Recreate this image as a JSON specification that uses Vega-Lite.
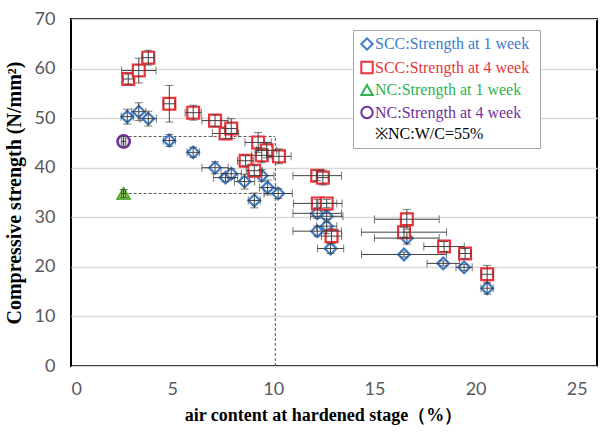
{
  "$schema": "https://vega.github.io/schema/vega-lite/v6.json",
  "width": 526,
  "height": 347,
  "autosize": "none",
  "padding": {"left": 71, "top": 19, "right": 12, "bottom": 67},
  "background": "white",
  "config": {
    "view": {"stroke": "black", "strokeWidth": 2},
    "axis": {
      "labelFont": "Lato",
      "labelFontSize": 18,
      "labelColor": "#595959",
      "titleFont": "Liberation Serif",
      "titleFontWeight": "bold",
      "titleFontSize": 18,
      "titleColor": "black",
      "domain": false,
      "ticks": false
    }
  },
  "datasets": {
    "pts": [
      {"s": "SCC:Strength at  1 week", "x": 2.78, "y": 50.3, "xlo": 2.48, "xhi": 3.08, "ylo": 48.8, "yhi": 51.8},
      {"s": "SCC:Strength at  1 week", "x": 3.35, "y": 51.3, "xlo": 3.0, "xhi": 3.7, "ylo": 49.5, "yhi": 53.1},
      {"s": "SCC:Strength at  1 week", "x": 3.82, "y": 49.9, "xlo": 3.42, "xhi": 4.22, "ylo": 48.4, "yhi": 51.4},
      {"s": "SCC:Strength at  1 week", "x": 4.86, "y": 45.5, "xlo": 4.56, "xhi": 5.16, "ylo": 44.3, "yhi": 46.7},
      {"s": "SCC:Strength at  1 week", "x": 6.04, "y": 43.1, "xlo": 5.74, "xhi": 6.34, "ylo": 42.1, "yhi": 44.1},
      {"s": "SCC:Strength at  1 week", "x": 7.12, "y": 40.0, "xlo": 6.47, "xhi": 7.77, "ylo": 38.8, "yhi": 41.2},
      {"s": "SCC:Strength at  1 week", "x": 7.64, "y": 38.0, "xlo": 7.04, "xhi": 8.24, "ylo": 37.2, "yhi": 38.8},
      {"s": "SCC:Strength at  1 week", "x": 7.92, "y": 38.8, "xlo": 7.42, "xhi": 8.42, "ylo": 37.8, "yhi": 39.8},
      {"s": "SCC:Strength at  1 week", "x": 8.58, "y": 37.2, "xlo": 8.08, "xhi": 9.08, "ylo": 35.7, "yhi": 38.7},
      {"s": "SCC:Strength at  1 week", "x": 9.43, "y": 38.4, "xlo": 8.83, "xhi": 10.03, "ylo": 37.2, "yhi": 39.6},
      {"s": "SCC:Strength at  1 week", "x": 9.72, "y": 36.0, "xlo": 9.32, "xhi": 10.12, "ylo": 34.5, "yhi": 37.5},
      {"s": "SCC:Strength at  1 week", "x": 9.06, "y": 33.4, "xlo": 8.76, "xhi": 9.36, "ylo": 31.9, "yhi": 34.9},
      {"s": "SCC:Strength at  1 week", "x": 10.24, "y": 34.8, "xlo": 9.54, "xhi": 10.94, "ylo": 33.8, "yhi": 35.8},
      {"s": "SCC:Strength at  1 week", "x": 12.17, "y": 30.8, "xlo": 10.97, "xhi": 13.37, "ylo": 29.8, "yhi": 31.8},
      {"s": "SCC:Strength at  1 week", "x": 12.64, "y": 30.2, "xlo": 11.84, "xhi": 13.44, "ylo": 29.0, "yhi": 31.4},
      {"s": "SCC:Strength at  1 week", "x": 12.64, "y": 28.2, "xlo": 12.14, "xhi": 13.14, "ylo": 26.7, "yhi": 29.7},
      {"s": "SCC:Strength at  1 week", "x": 12.17, "y": 27.2, "xlo": 10.97, "xhi": 13.37, "ylo": 26.2, "yhi": 28.2},
      {"s": "SCC:Strength at  1 week", "x": 12.83, "y": 23.7, "xlo": 12.18, "xhi": 13.48, "ylo": 22.7, "yhi": 24.7},
      {"s": "SCC:Strength at  1 week", "x": 16.6, "y": 25.8, "xlo": 15.0, "xhi": 18.2, "ylo": 24.6, "yhi": 27.0},
      {"s": "SCC:Strength at  1 week", "x": 16.46, "y": 22.5, "xlo": 14.36, "xhi": 18.56, "ylo": 22.0, "yhi": 23.0},
      {"s": "SCC:Strength at  1 week", "x": 18.4, "y": 20.7, "xlo": 17.6, "xhi": 19.2, "ylo": 20.2, "yhi": 21.2},
      {"s": "SCC:Strength at  1 week", "x": 19.43, "y": 19.9, "xlo": 19.03, "xhi": 19.83, "ylo": 19.3, "yhi": 20.5},
      {"s": "SCC:Strength at  1 week", "x": 20.57, "y": 15.7, "xlo": 20.27, "xhi": 20.87, "ylo": 14.5, "yhi": 16.9},
      {"s": "SCC:Strength at  4 week", "x": 2.83, "y": 57.9, "xlo": 2.58, "xhi": 3.08, "ylo": 56.9, "yhi": 58.9},
      {"s": "SCC:Strength at  4 week", "x": 3.35, "y": 59.6, "xlo": 2.5, "xhi": 4.2, "ylo": 57.1, "yhi": 62.1},
      {"s": "SCC:Strength at  4 week", "x": 3.82, "y": 62.2, "xlo": 3.52, "xhi": 4.12, "ylo": 60.7, "yhi": 63.7},
      {"s": "SCC:Strength at  4 week", "x": 4.86, "y": 52.9, "xlo": 4.56, "xhi": 5.16, "ylo": 49.2, "yhi": 56.6},
      {"s": "SCC:Strength at  4 week", "x": 6.04, "y": 51.1, "xlo": 5.64, "xhi": 6.44, "ylo": 49.6, "yhi": 52.6},
      {"s": "SCC:Strength at  4 week", "x": 7.12, "y": 49.5, "xlo": 6.47, "xhi": 7.77, "ylo": 48.3, "yhi": 50.7},
      {"s": "SCC:Strength at  4 week", "x": 7.64, "y": 46.9, "xlo": 6.99, "xhi": 8.29, "ylo": 45.9, "yhi": 47.9},
      {"s": "SCC:Strength at  4 week", "x": 7.92, "y": 47.9, "xlo": 7.62, "xhi": 8.22, "ylo": 45.9, "yhi": 49.9},
      {"s": "SCC:Strength at  4 week", "x": 9.25, "y": 45.1, "xlo": 8.6, "xhi": 9.9, "ylo": 43.1, "yhi": 47.1},
      {"s": "SCC:Strength at  4 week", "x": 9.67, "y": 43.5, "xlo": 9.17, "xhi": 10.17, "ylo": 42.0, "yhi": 45.0},
      {"s": "SCC:Strength at  4 week", "x": 9.43, "y": 42.5, "xlo": 8.93, "xhi": 9.93, "ylo": 41.0, "yhi": 44.0},
      {"s": "SCC:Strength at  4 week", "x": 10.28, "y": 42.3, "xlo": 9.68, "xhi": 10.88, "ylo": 40.8, "yhi": 43.8},
      {"s": "SCC:Strength at  4 week", "x": 8.63, "y": 41.4, "xlo": 8.23, "xhi": 9.03, "ylo": 40.4, "yhi": 42.4},
      {"s": "SCC:Strength at  4 week", "x": 9.06, "y": 39.4, "xlo": 8.66, "xhi": 9.46, "ylo": 38.4, "yhi": 40.4},
      {"s": "SCC:Strength at  4 week", "x": 12.17, "y": 38.4, "xlo": 10.97, "xhi": 13.37, "ylo": 37.4, "yhi": 39.4},
      {"s": "SCC:Strength at  4 week", "x": 12.45, "y": 38.0, "xlo": 12.15, "xhi": 12.75, "ylo": 36.5, "yhi": 39.5},
      {"s": "SCC:Strength at  4 week", "x": 12.2, "y": 32.8, "xlo": 11.0, "xhi": 13.4, "ylo": 32.0, "yhi": 33.6},
      {"s": "SCC:Strength at  4 week", "x": 12.64, "y": 32.8, "xlo": 12.14, "xhi": 13.14, "ylo": 32.0, "yhi": 33.6},
      {"s": "SCC:Strength at  4 week", "x": 12.88, "y": 26.2, "xlo": 12.38, "xhi": 13.38, "ylo": 24.7, "yhi": 27.7},
      {"s": "SCC:Strength at  4 week", "x": 16.6, "y": 29.6, "xlo": 15.0, "xhi": 18.2, "ylo": 27.6, "yhi": 31.6},
      {"s": "SCC:Strength at  4 week", "x": 16.46, "y": 27.0, "xlo": 14.36, "xhi": 18.56, "ylo": 26.0, "yhi": 28.0},
      {"s": "SCC:Strength at  4 week", "x": 18.44, "y": 24.1, "xlo": 17.44, "xhi": 19.44, "ylo": 23.1, "yhi": 25.1},
      {"s": "SCC:Strength at  4 week", "x": 19.48, "y": 22.7, "xlo": 19.18, "xhi": 19.78, "ylo": 21.7, "yhi": 23.7},
      {"s": "SCC:Strength at  4 week", "x": 20.57, "y": 18.5, "xlo": 20.27, "xhi": 20.87, "ylo": 16.7, "yhi": 20.3},
      {"s": "NC:Strength at  1 week", "x": 2.6, "y": 34.8, "xlo": 2.5, "xhi": 2.7, "ylo": 34.0, "yhi": 35.6},
      {"s": "NC:Strength at  4 week", "x": 2.6, "y": 45.3, "xlo": 2.5, "xhi": 2.7, "ylo": 44.3, "yhi": 46.3}
    ],
    "guides": [
      {"x": 2.6, "x2": 10.1, "y": 46.3, "y2": 46.3},
      {"x": 2.6, "x2": 10.1, "y": 34.8, "y2": 34.8},
      {"x": 10.1, "x2": 10.1, "y": 0, "y2": 46.3}
    ]
  },
  "layer": [
    {
      "data": {"name": "guides"},
      "mark": {"type": "rule", "strokeDash": [3, 2], "color": "#595959", "strokeWidth": 1},
      "encoding": {
        "x": {"field": "x", "type": "quantitative", "scale": {"domain": [0, 25]},
          "axis": {"values": [0, 5, 10, 15, 20, 25], "grid": false, "labelPadding": 14, "titlePadding": 8, "titleX": 252},
          "title": "air content at hardened stage（%）"},
        "x2": {"field": "x2"},
        "y": {"field": "y", "type": "quantitative", "scale": {"domain": [0, 70]},
          "axis": {"values": [0, 10, 20, 30, 40, 50, 60, 70], "grid": true, "gridColor": "#d9d9d9", "gridWidth": 1.5,
                   "labelPadding": 16, "titlePadding": 10, "titleFontSize": 20},
          "title": "Compressive strength (N/mm²)"},
        "y2": {"field": "y2"}
      }
    },
    {
      "data": {"name": "pts"},
      "mark": {"type": "point", "filled": false, "fill": "white", "strokeWidth": 2.2, "size": 140, "opacity": 1},
      "encoding": {
        "x": {"field": "x", "type": "quantitative", "title": "air content at hardened stage（%）"},
        "y": {"field": "y", "type": "quantitative", "title": "Compressive strength (N/mm²)"},
        "stroke": {"field": "s", "type": "nominal", "title": null,
          "scale": {"domain": ["SCC:Strength at  1 week", "SCC:Strength at  4 week", "NC:Strength at  1 week", "NC:Strength at  4 week", "※NC:W/C=55%"],
                    "range": ["#3d7cc9", "#e8333a", "#2db350", "#7030a0", "#000000"]},
          "legend": {
            "orient": "none", "legendX": 282, "legendY": 11,
            "fillColor": "white", "strokeColor": "#a6a6a6",
            "padding": 6, "labelFont": "Liberation Serif", "labelFontSize": 16,
            "symbolSize": 130, "symbolStrokeWidth": 2, "rowPadding": 3.5, "labelOffset": 0,
            "symbolFillColor": "transparent",
            "labelColor": {"expr": "scale('stroke', datum.value)"},
            "encode": {
              "legend": {"update": {"strokeWidth": {"value": 2}}}
            }
          }},
        "shape": {"field": "s", "type": "nominal", "title": null,
          "scale": {"domain": ["SCC:Strength at  1 week", "SCC:Strength at  4 week", "NC:Strength at  1 week", "NC:Strength at  4 week", "※NC:W/C=55%"],
                    "range": ["diamond", "square", "triangle-up", "circle", "M0,0"]}}
      }
    },
    {
      "data": {"name": "pts"},
      "transform": [{"filter": "datum.s === 'NC:Strength at  1 week'"}],
      "mark": {"type": "point", "shape": "triangle-up", "filled": true, "color": "#92d050", "stroke": "#5aa832", "strokeWidth": 1.5, "size": 160, "opacity": 1},
      "encoding": {
        "x": {"field": "x", "type": "quantitative", "title": "air content at hardened stage（%）"},
        "y": {"field": "y", "type": "quantitative", "title": "Compressive strength (N/mm²)"}
      }
    },
    {
      "data": {"name": "pts"},
      "transform": [{"filter": "datum.s === 'NC:Strength at  4 week'"}],
      "mark": {"type": "point", "shape": "circle", "filled": true, "color": "#dcdcdc", "stroke": "#7030a0", "strokeWidth": 2.5, "size": 150, "opacity": 1},
      "encoding": {
        "x": {"field": "x", "type": "quantitative", "title": "air content at hardened stage（%）"},
        "y": {"field": "y", "type": "quantitative", "title": "Compressive strength (N/mm²)"}
      }
    },
    {
      "data": {"name": "pts"},
      "mark": {"type": "errorbar", "ticks": {"size": 8}, "color": "#404040", "thickness": 1},
      "encoding": {
        "x": {"field": "xlo", "type": "quantitative", "title": "air content at hardened stage（%）"},
        "x2": {"field": "xhi"},
        "y": {"field": "y", "type": "quantitative", "title": "Compressive strength (N/mm²)"}
      }
    },
    {
      "data": {"name": "pts"},
      "mark": {"type": "errorbar", "ticks": {"size": 8}, "color": "#404040", "thickness": 1},
      "encoding": {
        "y": {"field": "ylo", "type": "quantitative", "title": "Compressive strength (N/mm²)"},
        "y2": {"field": "yhi"},
        "x": {"field": "x", "type": "quantitative", "title": "air content at hardened stage（%）"}
      }
    }
  ]
}
